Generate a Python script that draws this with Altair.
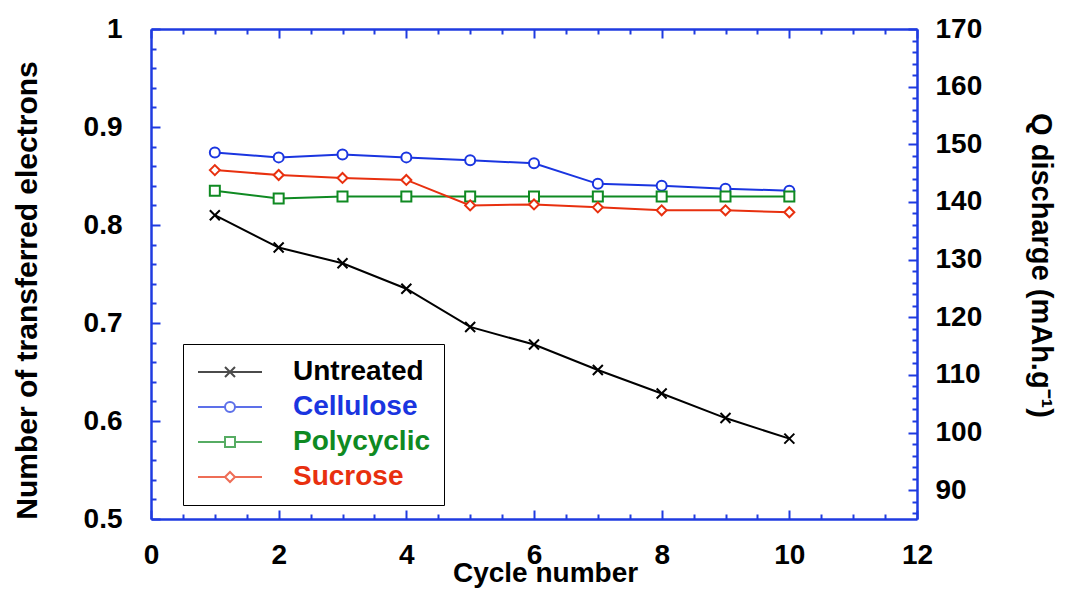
import altair as alt
import pandas as pd
import numpy as np

# ---- data ----
cycles = [1, 2, 3, 4, 5, 6, 7, 8, 9, 10]
untreated = [0.810, 0.777, 0.761, 0.735, 0.696, 0.678, 0.652, 0.628, 0.603, 0.582]
cellulose = [0.874, 0.869, 0.872, 0.869, 0.866, 0.863, 0.842, 0.840, 0.837, 0.835]
polycyclic = [0.835, 0.827, 0.829, 0.829, 0.829, 0.829, 0.829, 0.829, 0.829, 0.829]
sucrose = [0.856, 0.851, 0.848, 0.846, 0.820, 0.821, 0.818, 0.815, 0.815, 0.813]

series_names = ["Untreated", "Cellulose", "Polycyclic", "Sucrose"]
series_colors = ["#000000", "#1a35e0", "#0f8a22", "#e8300f"]

x_major = [0, 2, 4, 6, 8, 10, 12]
x_minor = [0.5, 1, 1.5, 2.5, 3, 3.5, 4.5, 5, 5.5, 6.5, 7, 7.5, 8.5, 9, 9.5, 10.5, 11, 11.5]
y_major = [0.5, 0.6, 0.7, 0.8, 0.9, 1.0]
y_minor = [0.52, 0.54, 0.56, 0.58, 0.62, 0.64, 0.66, 0.68, 0.72, 0.74, 0.76, 0.78,
           0.82, 0.84, 0.86, 0.88, 0.92, 0.94, 0.96, 0.98]
q_major = [90, 100, 110, 120, 130, 140, 150, 160, 170]
q_minor = [86, 88, 92, 94, 96, 98, 102, 104, 106, 108, 112, 114, 116, 118, 122, 124, 126, 128,
           132, 134, 136, 138, 142, 144, 146, 148, 152, 154, 156, 158, 162, 164, 166, 168]

Q_PER_ELECTRON = 170  # mAh/g for one transferred electron

frames = []
for name, vals in zip(series_names, [untreated, cellulose, polycyclic, sucrose]):
    frames.append(pd.DataFrame({"cycle": cycles, "n": vals, "series": name}))
df = pd.concat(frames, ignore_index=True)

BLUE = "#1f3be0"
FONT = "Liberation Sans"
FS = 28

x_scale = alt.Scale(domain=[0, 12], nice=False, zero=False)
y_scale = alt.Scale(domain=[0.5, 1.0], nice=False, zero=False)
q_scale = alt.Scale(domain=[85, 170], nice=False, zero=False)
color_scale = alt.Scale(domain=series_names, range=series_colors)

marker_shapes = ["M-1,-1L1,1M-1,1L1,-1", "circle", "square", "diamond"]
legend_shapes = [
    "M-6.4,0L6.4,0M-1,-1L1,1M-1,1L1,-1",
    "M-6.4,0L-1,0M1,0L6.4,0M-1,0A1,1,0,1,1,1,0A1,1,0,1,1,-1,0Z",
    "M-6.4,0L-1,0M1,0L6.4,0M-1,-1L1,-1L1,1L-1,1Z",
    "M-6.4,0L-1,0M1,0L6.4,0M-1,0L0,-1L1,0L0,1Z",
]

MAJ = 9
MIN = 5


def tick_axis(orient, values, size, **kw):
    return alt.Axis(orient=orient, values=values, offset=-size, tickSize=size,
                    tickWidth=2, tickColor=BLUE, domain=False, grid=False,
                    labelFlush=False, labelOverlap=False, **kw)


def frame_axis(orient):
    return alt.Axis(orient=orient, domain=True, domainColor=BLUE, domainWidth=2.5,
                    ticks=False, labels=False, grid=False, title=None)


label_style = dict(labelFont=FONT, labelFontSize=FS, labelFontWeight="bold", labelColor="black")
title_style = dict(titleFont=FONT, titleFontWeight="bold", titleColor="black",
                   titleBaseline="alphabetic", titleAlign="center")

base = alt.Chart(df)

# axes carrier layer (invisible) with the major bottom/left axes and titles
axes_bl = base.mark_point(opacity=0).encode(
    x=alt.X("cycle:Q", scale=x_scale,
            axis=tick_axis("bottom", x_major, MAJ, labelPadding=22, format="d",
                           title="Cycle number", titleY=71, titleX=394, titleAngle=0,
                           titleFontSize=28, **label_style, **title_style)),
    y=alt.Y("n:Q", scale=y_scale,
            axis=tick_axis("left", y_major, MAJ, labelPadding=29, format="~g",
                           title="Number of transferred electrons", titleX=-124, titleY=261,
                           titleAngle=-90, titleFontSize=30, **label_style, **title_style)),
)

series_layers = []
for name, col, shp in zip(series_names, series_colors, marker_shapes):
    sub = base.transform_filter(alt.datum.series == name)
    series_layers.append(
        sub.mark_line(color=col, strokeWidth=2).encode(
            x=alt.X("cycle:Q", scale=x_scale, axis=None),
            y=alt.Y("n:Q", scale=y_scale, axis=None),
        )
    )
    series_layers.append(
        sub.mark_point(shape=shp, filled=False, fill="white", stroke=col, color=col,
                       strokeWidth=2, size=100, opacity=1).encode(
            x=alt.X("cycle:Q", scale=x_scale, axis=None),
            y=alt.Y("n:Q", scale=y_scale, axis=None),
        )
    )

minor_bl = base.mark_point(opacity=0).encode(
    x=alt.X("cycle:Q", scale=x_scale, axis=tick_axis("bottom", x_minor, MIN, labels=False, title=None)),
    y=alt.Y("n:Q", scale=y_scale, axis=tick_axis("left", y_minor, MIN, labels=False, title=None)),
)

frame_bl = base.mark_point(opacity=0).encode(
    x=alt.X("cycle:Q", scale=x_scale, axis=frame_axis("bottom")),
    y=alt.Y("n:Q", scale=y_scale, axis=frame_axis("left")),
)

qbase = base.transform_calculate(q=f"datum.n * {Q_PER_ELECTRON}")

major_tr = qbase.mark_point(opacity=0).encode(
    x=alt.X("cycle:Q", scale=x_scale, axis=tick_axis("top", x_major, MAJ, labels=False, title=None)),
    y=alt.Y("q:Q", scale=q_scale,
            axis=tick_axis("right", q_major, MAJ, labelPadding=18, format="d",
                           title="Q discharge (mAh.g⁻¹)", titleX=123, titleY=236, titleAngle=90,
                           titleFontSize=29, **label_style, **title_style)),
)

minor_tr = qbase.mark_point(opacity=0).encode(
    x=alt.X("cycle:Q", scale=x_scale, axis=tick_axis("top", x_minor, MIN, labels=False, title=None)),
    y=alt.Y("q:Q", scale=q_scale, axis=tick_axis("right", q_minor, MIN, labels=False, title=None)),
)

frame_tr = qbase.mark_point(opacity=0).encode(
    x=alt.X("cycle:Q", scale=x_scale, axis=frame_axis("top")),
    y=alt.Y("q:Q", scale=q_scale, axis=frame_axis("right")),
)

label_color_expr = ("datum.label == 'Untreated' ? '#000000' : datum.label == 'Cellulose' ? '#1a35e0' : "
                    "datum.label == 'Polycyclic' ? '#0f8a22' : '#e8300f'")

legend_def = alt.Legend(title=None, orient="none", legendX=32, legendY=315, padding=14,
                        cornerRadius=0, strokeColor="black", fillColor="white",
                        labelFont=FONT, labelFontSize=FS, labelFontWeight="bold",
                        labelColor={"expr": label_color_expr},
                        symbolSize=100, symbolStrokeWidth=2, symbolFillColor="white",
                        symbolOffset=19, labelOffset=49, rowPadding=7, labelLimit=400)

# legend-only layer: draws nothing, provides the legend from its colour and shape scales
legend_layer = base.transform_filter("false").mark_point(
    filled=False, fill="white", strokeWidth=2, size=100
).encode(
    color=alt.Color("series:N", scale=color_scale, legend=legend_def),
    shape=alt.Shape("series:N", scale=alt.Scale(domain=series_names, range=legend_shapes),
                    legend=legend_def),
)

chart = alt.layer(frame_bl, frame_tr, axes_bl, *series_layers, minor_bl, major_tr, minor_tr,
                  legend_layer).resolve_scale(
    y="independent"
).resolve_axis(
    x="independent", y="independent"
).properties(
    width=766, height=490,
    autosize=alt.AutoSizeParams(type="none"),
    padding={"left": 143, "top": 21, "right": 140, "bottom": 75},
    background="white",
).configure_view(
    stroke=BLUE, strokeWidth=2.5, fill="#e3e4e4"
).configure_legend(
    strokeWidth=2.5
).configure(font=FONT)

chart.save("out.html", embed_options={"renderer": "svg", "actions": False})
